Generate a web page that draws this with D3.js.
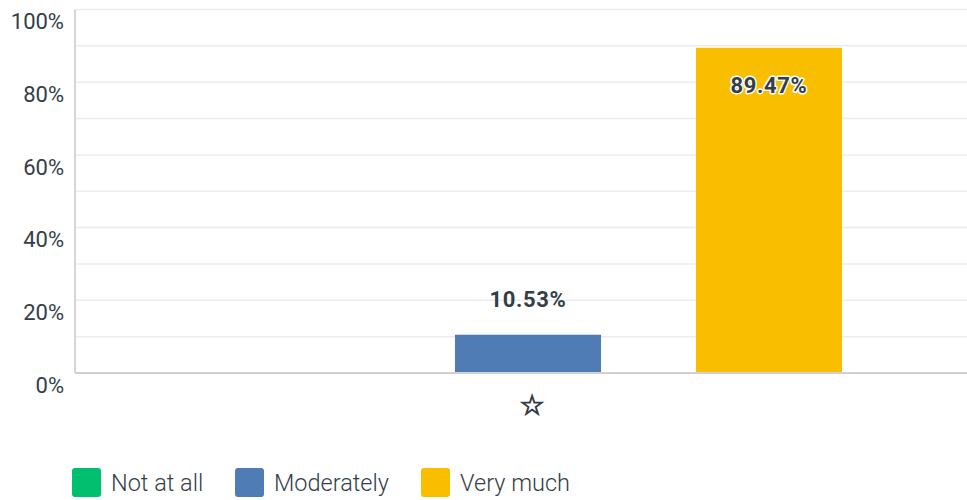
<!DOCTYPE html>
<html><head><meta charset="utf-8">
<script src="https://cdn.jsdelivr.net/npm/d3@7"></script>
<style>
html,body{margin:0;padding:0;background:#fff;}
svg{display:block;font-family:Roboto, "Open Sans", sans-serif;}
</style></head>
<body>
<svg id="chart" width="967" height="500"></svg>
<script>
const categories = ["☆"];
const seriesNames = ["Not at all", "Moderately", "Very much"];
const seriesColors = ["#00bf6f", "#507cb6", "#f9be00"];
const seriesValues = [0, 10.53, 89.47];
const yTicks = [0, 20, 40, 60, 80, 100];
const gridTicks = [0,10,20,30,40,50,60,70,80,90,100];

const svg = d3.select("#chart");
const W = 967, H = 500;
const plotLeft = 75, plotTop = 9.5, plotBottom = 373;

const y = d3.scaleLinear().domain([0, 100]).range([plotBottom, plotTop]);
const x0 = d3.scaleBand().domain(categories).range([89, 967]).paddingInner(0).paddingOuter(0.199);
const x1 = d3.scaleBand().domain(seriesNames).range([0, x0.bandwidth()]).paddingInner(0.394).paddingOuter(0);

// gridlines
svg.append("g").selectAll("line").data(gridTicks.filter(d => d > 0)).join("line")
  .attr("x1", plotLeft).attr("x2", W)
  .attr("y1", d => y(d)).attr("y2", d => y(d))
  .attr("stroke", "#ececec").attr("stroke-width", 1.5);

// y axis line
svg.append("line").attr("x1", plotLeft).attr("x2", plotLeft)
  .attr("y1", plotTop).attr("y2", plotBottom)
  .attr("stroke", "#d6d6d6").attr("stroke-width", 2);

// y axis labels
const yAxis = d3.axisLeft(y).tickValues(yTicks).tickFormat(d => d + "%").tickSize(0).tickPadding(11);
const ga = svg.append("g").attr("transform", `translate(${plotLeft},0)`).call(yAxis);
ga.select(".domain").remove();
ga.selectAll("text").attr("font-size", 22).attr("fill", "#333e48")
  .attr("font-family", "Roboto, sans-serif").attr("dy", "0.88em").attr("font-weight", 400);

// bars
const g = svg.append("g");
categories.forEach(cat => {
  const data = seriesNames.map((s, i) => ({s, v: seriesValues[i], c: seriesColors[i]}));
  const gg = g.append("g").attr("transform", `translate(${x0(cat)},0)`);
  gg.selectAll("rect").data(data).join("rect")
    .attr("x", d => x1(d.s)).attr("width", x1.bandwidth())
    .attr("y", d => y(d.v)).attr("height", d => y(0) - y(d.v))
    .attr("fill", d => d.c);
  gg.selectAll("text.val").data(data.filter(d => d.v > 0)).join("text")
    .attr("class", "val")
    .attr("x", d => x1(d.s) + x1.bandwidth() / 2)
    .attr("y", d => d.v > 50 ? y(d.v) + 38 : y(d.v) - 35)
    .attr("dy", "0.35em")
    .attr("text-anchor", "middle")
    .attr("font-size", 22).attr("font-weight", 700)
    .attr("letter-spacing", 0.6)
    .attr("fill", "#333e48")
    .attr("stroke", d => d.v > 50 ? "#fff" : "none")
    .attr("stroke-width", 3).attr("paint-order", "stroke")
    .attr("stroke-linejoin", "round")
    .text(d => d.v.toFixed(2) + "%");
});

// baseline
svg.append("line").attr("x1", plotLeft).attr("x2", W)
  .attr("y1", plotBottom).attr("y2", plotBottom)
  .attr("stroke", "#d0d0d0").attr("stroke-width", 2);

// x axis label
svg.append("g").selectAll("text").data(categories).join("text")
  .attr("x", d => x0(d) + x0.bandwidth() / 2 + 4)
  .attr("y", 405).attr("dy", "0.35em")
  .attr("text-anchor", "middle").attr("font-size", 28)
  .attr("fill", "#333e48").attr("stroke", "#333e48").attr("stroke-width", 1)
  .attr("font-family", "DejaVu Sans, sans-serif")
  .text(d => d);

// legend
const legX = [72, 235, 421];
const leg = svg.append("g").selectAll("g").data(seriesNames).join("g")
  .attr("transform", (d, i) => `translate(${legX[i]},468)`);
leg.append("rect").attr("width", 29).attr("height", 29).attr("rx", 3)
  .attr("fill", (d, i) => seriesColors[i]);
leg.append("text").attr("x", 39).attr("y", 15).attr("dy", "0.35em")
  .attr("font-size", 23.5).attr("font-weight", 300).attr("fill", "#333e48")
  .text(d => d);
</script>
</body></html>
